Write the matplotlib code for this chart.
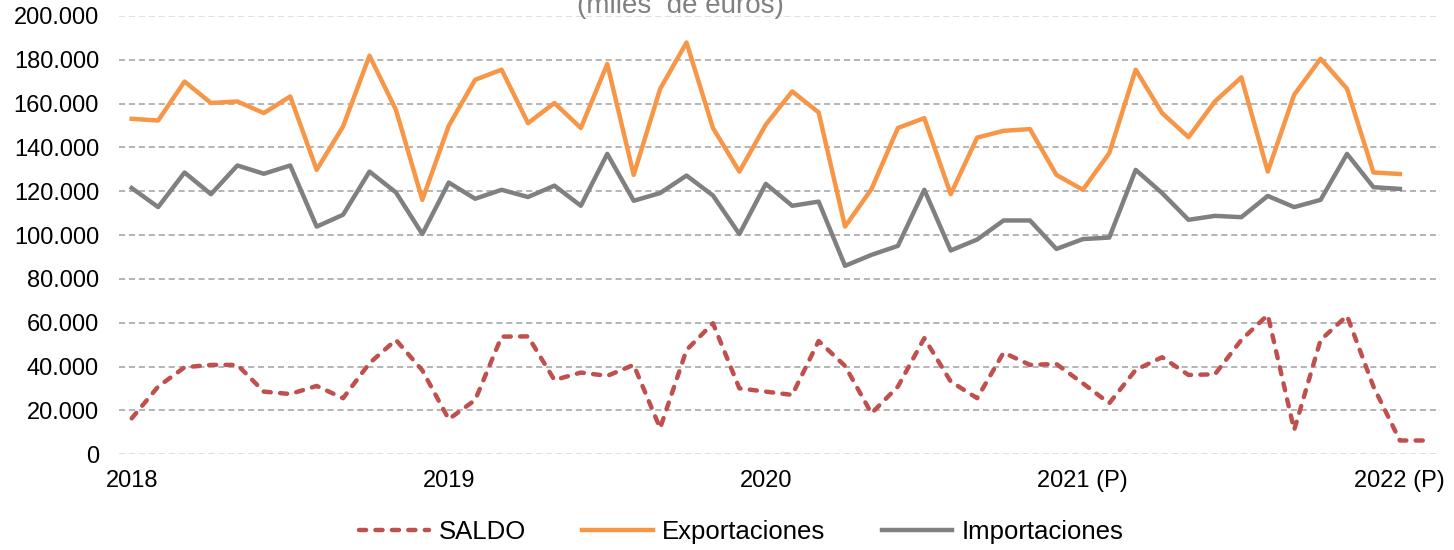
import matplotlib
matplotlib.use('Agg')
import matplotlib.pyplot as plt
import numpy as np

plt.rcParams['font.family'] = ['Liberation Sans', 'DejaVu Sans']

# Monthly values (miles de euros), Jan 2018 - Jan 2022
exportaciones = [153100, 152300, 170100, 160300, 161000, 155700, 163300, 129800, 149600, 181900,
                 157200, 116100, 149900, 170900, 175500, 151100, 160300, 148900, 178100, 127500,
                 166700, 187900, 148900, 129000, 150400, 165600, 156000, 103900, 121000, 148900,
                 153400, 118700, 144500, 147600, 148400, 127500, 120700, 137400, 175500, 155700,
                 144700, 161000, 172000, 129000, 164100, 180500, 166800, 128600, 127900]
importaciones = [121500, 112800, 128600, 118700, 131800, 128000, 131800, 103900, 109300, 129000,
                 119500, 100500, 124000, 116600, 120700, 117400, 122600, 113400, 137100, 115700,
                 119200, 127200, 118100, 100500, 123400, 113400, 115300, 86000, 91000, 95100,
                 120700, 93000, 98000, 106700, 106700, 93700, 98200, 98900, 129800, 119200,
                 107000, 108800, 108200, 117900, 112800, 116100, 137100, 121900, 121100]
saldo = [16400, 30900, 39700, 40800, 40800, 28600, 27500, 31200, 25600, 41600,
         52200, 38300, 16000, 24800, 53700, 53800, 33900, 37300, 35800, 40800,
         11900, 47600, 59800, 30100, 28600, 27100, 51700, 40300, 18700, 30900,
         53000, 33200, 25600, 46400, 40800, 41200, 32400, 23300, 38500, 44300,
         36200, 36500, 52200, 63600, 11100, 52200, 63200, 30900, 6300, 6300]

year_pos = [0, 12, 24, 36, 48]
year_labels = ['2018', '2019', '2020', '2021 (P)', '2022 (P)']
yticks = [0, 20000, 40000, 60000, 80000, 100000, 120000, 140000, 160000, 180000, 200000]

fig = plt.figure(figsize=(14.54, 5.5), dpi=100)
ax = fig.add_axes([118.5 / 1454, 1 - 454.3 / 550, 1321 / 1454, 438.3 / 550])

for v in yticks:
    light = v in (0, 200000)
    ax.axhline(v, color='#d9d9d9' if light else '#a0a0a0', lw=1.1,
               ls=(0, (4, 2.5)), zorder=0)

ln_s, = ax.plot(np.arange(len(saldo)), saldo, color='#c0504d', lw=3.2,
                dashes=(1.6, 2.1), dash_capstyle='round', label='SALDO')
ln_e, = ax.plot(np.arange(len(exportaciones)), exportaciones, color='#f79646', lw=3.2,
                solid_joinstyle='round', label='Exportaciones')
ln_i, = ax.plot(np.arange(len(importaciones)), importaciones, color='#808080', lw=3.2,
                solid_joinstyle='round', label='Importaciones')

ax.set_xlim(-0.5, 49.5)
ax.set_ylim(0, 200000)
ax.set_yticks(yticks)
ax.set_yticklabels([f'{v:,.0f}'.replace(',', '.') for v in yticks])
ax.set_xticks(year_pos)
ax.set_xticklabels(year_labels)
ax.tick_params(axis='both', length=0, labelsize=17, colors='#000000')
ax.tick_params(axis='y', pad=14)
ax.tick_params(axis='x', pad=11)
for s in ax.spines.values():
    s.set_visible(False)

fig.text(680 / 1454, 1 - 13 / 550, '(miles  de euros)', ha='center', va='baseline',
         fontsize=20, color='#808080')

fig.legend(handles=[ln_s, ln_e, ln_i], loc='center', bbox_to_anchor=(741 / 1454, 18 / 550),
           ncol=3, frameon=False, fontsize=18.5, handlelength=2.75, handletextpad=0.35,
           columnspacing=2.2)

fig.savefig('out.png', dpi=100)
